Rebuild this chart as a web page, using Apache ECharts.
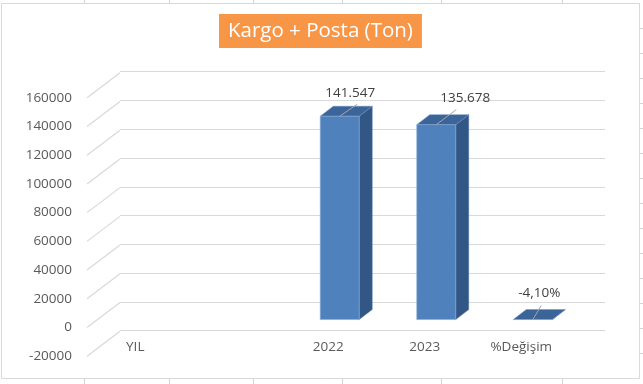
<!DOCTYPE html>
<html><head><meta charset="utf-8">
<script src="https://cdn.jsdelivr.net/npm/echarts@6/dist/echarts.min.js"></script>
<style>html,body{margin:0;padding:0;background:#fff}#c{width:643px;height:384px}</style>
</head><body><div id="c"></div>
<script>
// ---- data ----
const categories = ['YIL', '', '2022', '2023', '%Değişim'];
const values = [null, null, 141547, 135678, -0.041];
const yMin = -20000;
const yMax = 160000;
const yStep = 20000;
const yTicks = [-20000, 0, 20000, 40000, 60000, 80000, 100000, 120000, 140000, 160000];
const titleText = 'Kargo + Posta (Ton)';

// ---- style ----
const FONT = '"Open Sans", "Liberation Sans", sans-serif';
const DEPTH_X = 33, DEPTH_Y = -25;      // full 3D depth offset of the chart box
const BAR_OX = 11.5, BAR_OY = -8;       // bar front plane offset
const BAR_DX = 13, BAR_DY = -10;        // bar depth
const labelOffsets = {2: [10.5, -23], 3: [29, -26], 4: [6.5, -26]};
const leaderEnds = {2: [17.5, -12], 3: [20, -15], 4: [8.5, -14]};

function fmt(v) {
  if (Math.abs(v) < 1) return (v * 100).toFixed(2).replace('.', ',') + '%';
  return String(Math.round(v)).replace(/\B(?=(\d{3})+(?!\d))/g, '.');
}

const chart = echarts.init(document.getElementById('c'));

function renderBar(params, api) {
  const i = api.value(0), v = api.value(1);
  if (v === null || v === undefined || isNaN(v)) return;
  const top = api.coord([i, v]);
  const base = api.coord([i, 0]);
  const bw = api.size([1, 0])[0] * 0.404;
  const xl = top[0] + BAR_OX - bw / 2, xr = xl + bw;
  let yt = Math.min(top[1], base[1]) + BAR_OY;
  let yb = Math.max(top[1], base[1]) + BAR_OY;
  const cx = xl + bw / 2;
  const children = [];
  children.push({type: 'polygon', shape: {points: [[xr, yt], [xr + BAR_DX, yt + BAR_DY], [xr + BAR_DX, yb + BAR_DY], [xr, yb]]},
    style: {fill: '#335785', stroke: '#5a7fb0', lineWidth: 0.5}});
  children.push({type: 'polygon', shape: {points: [[xl, yt], [xr, yt], [xr + BAR_DX, yt + BAR_DY], [xl + BAR_DX, yt + BAR_DY]]},
    style: {fill: '#3b6598', stroke: '#6f93c2', lineWidth: 0.5}});
  if (yb - yt > 0.5) {
    children.push({type: 'rect', shape: {x: xl, y: yt, width: bw, height: yb - yt},
      style: {fill: '#4f81bd', stroke: '#86a8d6', lineWidth: 0.6}});
  }
  const lo = labelOffsets[i] || [12, -25];
  const le = leaderEnds[i] || [12, -12];
  children.push({type: 'line', shape: {x1: cx, y1: yt, x2: cx + le[0], y2: yt + le[1]},
    style: {stroke: '#a6a6a6', lineWidth: 1}});
  children.push({type: 'text', x: cx + lo[0], y: yt + lo[1],
    style: {text: fmt(v), align: 'center', verticalAlign: 'middle', fill: '#404040', font: '13.5px ' + FONT}});
  return {type: 'group', children: children};
}

function renderDiag(params, api) {
  const v = api.value(0);
  const p = api.coord([0, v]);
  const x0 = p[0] - api.size([1, 0])[0] / 2;
  return {type: 'line', shape: {x1: x0, y1: p[1], x2: x0 + DEPTH_X, y2: p[1] + DEPTH_Y},
    style: {stroke: '#d9d9d9', lineWidth: 1.2}};
}

// spreadsheet cell lines around the chart object
const cellCols = [84, 169, 253, 342, 441, 562];
const cellRows = [28, 53, 78, 103, 128, 153, 178, 203, 228, 253, 278, 303, 328, 353];
const graphics = [];
cellCols.forEach(x => {
  graphics.push({type: 'line', silent: true, shape: {x1: x + 0.5, y1: 0, x2: x + 0.5, y2: 3}, style: {stroke: '#d4d4d4', lineWidth: 1}});
  graphics.push({type: 'line', silent: true, shape: {x1: x + 0.5, y1: 379, x2: x + 0.5, y2: 384}, style: {stroke: '#d4d4d4', lineWidth: 1}});
});
cellRows.forEach(y => {
  graphics.push({type: 'line', silent: true, shape: {x1: 640, y1: y + 0.5, x2: 643, y2: y + 0.5}, style: {stroke: '#d4d4d4', lineWidth: 1}});
});
graphics.push({type: 'rect', silent: true, shape: {x: 1.5, y: 3.5, width: 638, height: 375}, style: {fill: null, stroke: '#d9d9d9', lineWidth: 1}});

chart.setOption({
  animation: false,
  backgroundColor: '#fff',
  title: {
    text: titleText, left: 219, top: 14,
    backgroundColor: '#f79646', padding: [5, 9],
    textStyle: {color: '#fff', fontSize: 20.5, fontWeight: 'normal', fontFamily: FONT, lineHeight: 24}
  },
  graphic: graphics,
  grid: [
    {left: 87, right: 73.5, top: 97.7, bottom: 27.7},
    {left: 120, right: 38, top: 71.7, bottom: 53.3}
  ],
  xAxis: [
    {type: 'category', gridIndex: 0, data: categories,
      axisLine: {show: false}, axisTick: {show: false}, splitLine: {show: false},
      axisLabel: {margin: -9, verticalAlign: 'middle', color: '#595959', fontSize: 13.5, fontFamily: FONT, interval: 0}},
    {type: 'category', gridIndex: 1, data: categories, show: false}
  ],
  yAxis: [
    {type: 'value', gridIndex: 0, min: yMin, max: yMax, interval: yStep,
      axisLine: {show: false}, axisTick: {show: false}, splitLine: {show: false},
      axisLabel: {margin: 15, color: '#595959', fontSize: 13.5, fontFamily: FONT, formatter: v => String(v)}},
    {type: 'value', gridIndex: 1, min: yMin, max: yMax, interval: yStep,
      axisLine: {show: false}, axisTick: {show: false}, axisLabel: {show: false},
      splitLine: {show: true, lineStyle: {color: '#d9d9d9', width: 1.2}}}
  ],
  series: [
    {type: 'custom', xAxisIndex: 0, yAxisIndex: 0, renderItem: renderDiag, data: yTicks.map(v => [v]), silent: true, z: 1},
    {type: 'custom', xAxisIndex: 0, yAxisIndex: 0, renderItem: renderBar,
      data: categories.map((c, i) => [i, values[i]]), z: 5}
  ]
});
</script></body></html>
